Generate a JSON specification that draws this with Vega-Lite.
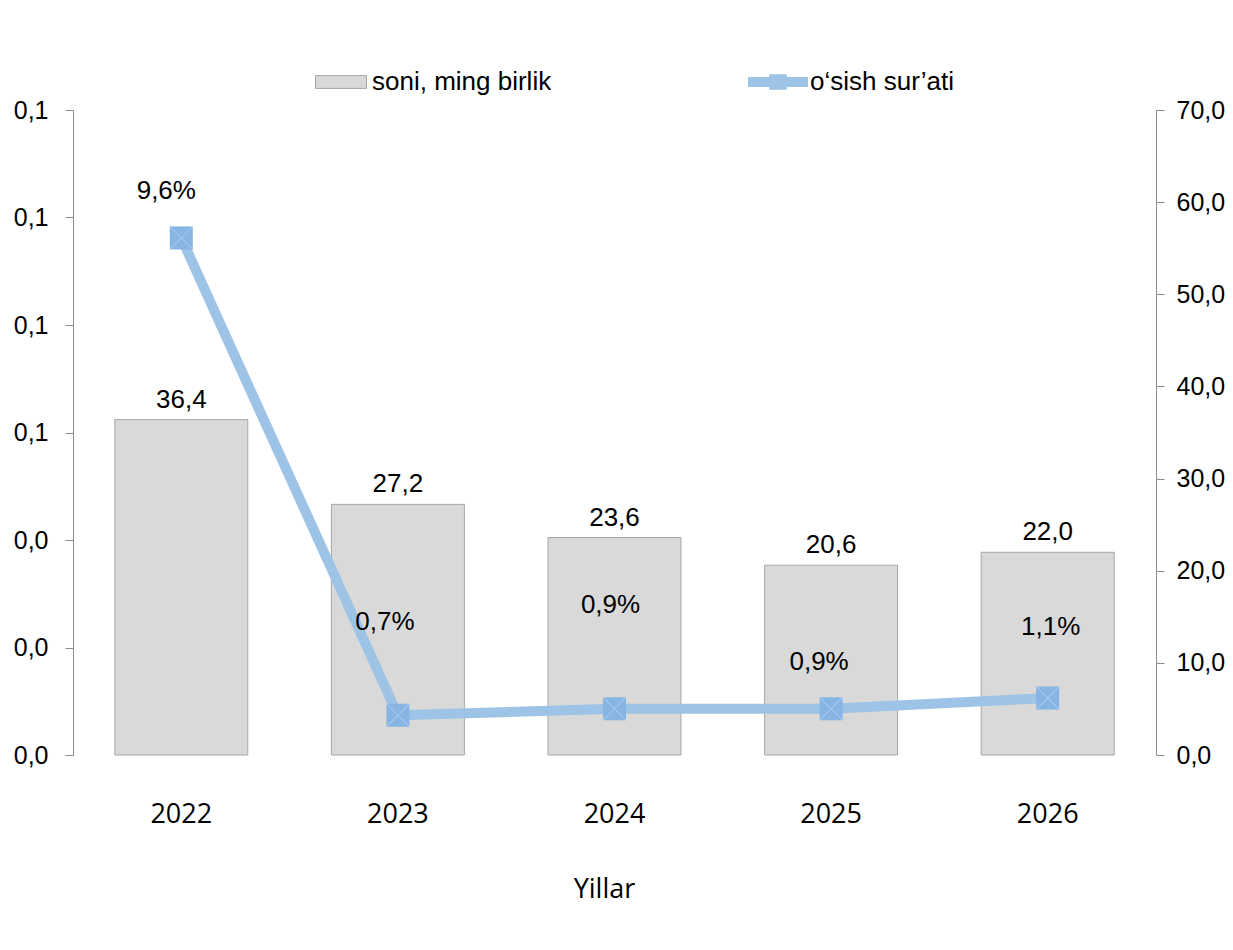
{
  "$schema": "https://vega.github.io/schema/vega-lite/v6.json",
  "width": 1083,
  "height": 645,
  "autosize": {"type": "none"},
  "padding": {"left": 73, "top": 110, "right": 77, "bottom": 195},
  "background": "white",
  "data": {
    "values": [
      {"year": "2022", "count": 36.4, "rate": 0.0962},
      {"year": "2023", "count": 27.2, "rate": 0.0074},
      {"year": "2024", "count": 23.6, "rate": 0.0086},
      {"year": "2025", "count": 20.6, "rate": 0.0086},
      {"year": "2026", "count": 22.0, "rate": 0.0106}
    ]
  },
  "encoding": {
    "x": {
      "field": "year",
      "type": "ordinal",
      "scale": {"paddingInner": 0.386, "paddingOuter": 0.193},
      "axis": {
        "title": "Yillar",
        "labelAngle": 0,
        "domain": false,
        "ticks": false,
        "labelFont": "Open Sans",
        "labelFontSize": 27,
        "labelColor": "#000000",
        "labelPadding": 46,
        "titleFont": "Open Sans",
        "titleFontSize": 27,
        "titleFontWeight": "normal",
        "titleColor": "#000000",
        "titlePadding": 49,
        "titleX": 531,
        "titleAlign": "center"
      }
    }
  },
  "layer": [
    {
      "encoding": {
        "y": {
          "field": "count",
          "type": "quantitative",
          "scale": {"domain": [0, 70], "nice": false},
          "axis": {
            "orient": "right",
            "title": null,
            "grid": false,
            "values": [0, 10, 20, 30, 40, 50, 60, 70],
            "format": ".1f",
            "domainColor": "#8c8c8c",
            "tickColor": "#8c8c8c",
            "tickSize": 8,
            "labelFont": "Liberation Sans",
            "labelFontSize": 25,
            "labelColor": "#000000",
            "labelPadding": 12
          }
        }
      },
      "layer": [
        {
          "mark": {"type": "bar", "stroke": "#a6a6a6", "strokeWidth": 1},
          "encoding": {
            "fill": {
              "datum": "soni, ming birlik",
              "type": "nominal",
              "scale": {"range": ["#d9d9d9"]},
              "legend": {
                "title": null,
                "orient": "none",
                "legendX": 242,
                "legendY": -54,
                "symbolType": "M-1,-0.25H1V0.25H-1Z",
                "symbolSize": 2601,
                "symbolStrokeColor": "#a6a6a6",
                "symbolStrokeWidth": 1,
                "labelFont": "Liberation Sans",
                "labelFontSize": 26,
                "labelColor": "#000000",
                "labelOffset": 5,
                "labelLimit": 400
              }
            }
          }
        },
        {
          "mark": {"type": "text", "font": "Liberation Sans", "fontSize": 26, "color": "#000000", "baseline": "middle", "dy": -20},
          "encoding": {
            "text": {"field": "count", "type": "quantitative", "format": ".1f"}
          }
        }
      ]
    },
    {
      "encoding": {
        "y": {
          "field": "rate",
          "type": "quantitative",
          "scale": {"domain": [0, 0.12], "nice": false},
          "axis": {
            "orient": "left",
            "title": null,
            "grid": false,
            "values": [0, 0.02, 0.04, 0.06, 0.08, 0.1, 0.12],
            "format": ".1f",
            "domainColor": "#8c8c8c",
            "tickColor": "#8c8c8c",
            "tickSize": 8,
            "labelFont": "Liberation Sans",
            "labelFontSize": 25,
            "labelColor": "#000000",
            "labelPadding": 17
          }
        }
      },
      "layer": [
        {
          "mark": {"type": "line", "strokeWidth": 10, "strokeJoin": "round"},
          "encoding": {
            "stroke": {
              "datum": "o‘sish sur’ati",
              "type": "nominal",
              "scale": {"range": ["#9dc3e6"]},
              "legend": {
                "title": null,
                "orient": "none",
                "legendX": 675,
                "legendY": -58,
                "symbolType": "M-1,-0.167H-0.293V-0.26H0.293V-0.167H1V0.167H0.293V0.26H-0.293V0.167H-1Z",
                "symbolSize": 3600,
                "symbolFillColor": "#9dc3e6",
                "symbolStrokeWidth": 0,
                "labelFont": "Liberation Sans",
                "labelFontSize": 26,
                "labelColor": "#000000",
                "labelOffset": 2,
                "labelLimit": 400
              }
            }
          }
        },
        {
          "mark": {"type": "point", "shape": "square", "size": 529, "filled": true, "fill": "#86b5e3", "opacity": 1, "strokeWidth": 0}
        },
        {
          "mark": {"type": "point", "shape": "M-1,-1L1,1M-1,1L1,-1", "size": 529, "filled": false, "stroke": "#b5d0ee", "strokeWidth": 1, "opacity": 1}
        },
        {
          "transform": [{"filter": "datum.year == '2022'"}],
          "mark": {"type": "text", "font": "Liberation Sans", "fontSize": 26, "color": "#000000", "baseline": "middle", "dx": -15, "dy": -47},
          "encoding": {"text": {"field": "rate", "type": "quantitative", "format": ".1%"}}
        },
        {
          "transform": [{"filter": "datum.year == '2023'"}],
          "mark": {"type": "text", "font": "Liberation Sans", "fontSize": 26, "color": "#000000", "baseline": "middle", "dx": -13, "dy": -93},
          "encoding": {"text": {"field": "rate", "type": "quantitative", "format": ".1%"}}
        },
        {
          "transform": [{"filter": "datum.year == '2024'"}],
          "mark": {"type": "text", "font": "Liberation Sans", "fontSize": 26, "color": "#000000", "baseline": "middle", "dx": -4, "dy": -104},
          "encoding": {"text": {"field": "rate", "type": "quantitative", "format": ".1%"}}
        },
        {
          "transform": [{"filter": "datum.year == '2025'"}],
          "mark": {"type": "text", "font": "Liberation Sans", "fontSize": 26, "color": "#000000", "baseline": "middle", "dx": -12, "dy": -47},
          "encoding": {"text": {"field": "rate", "type": "quantitative", "format": ".1%"}}
        },
        {
          "transform": [{"filter": "datum.year == '2026'"}],
          "mark": {"type": "text", "font": "Liberation Sans", "fontSize": 26, "color": "#000000", "baseline": "middle", "dx": 3, "dy": -71},
          "encoding": {"text": {"field": "rate", "type": "quantitative", "format": ".1%"}}
        }
      ]
    }
  ],
  "resolve": {"scale": {"y": "independent"}},
  "config": {
    "view": {"stroke": null},
    "locale": {
      "number": {"decimal": ",", "thousands": " ", "grouping": [3], "currency": ["", ""]}
    }
  }
}
